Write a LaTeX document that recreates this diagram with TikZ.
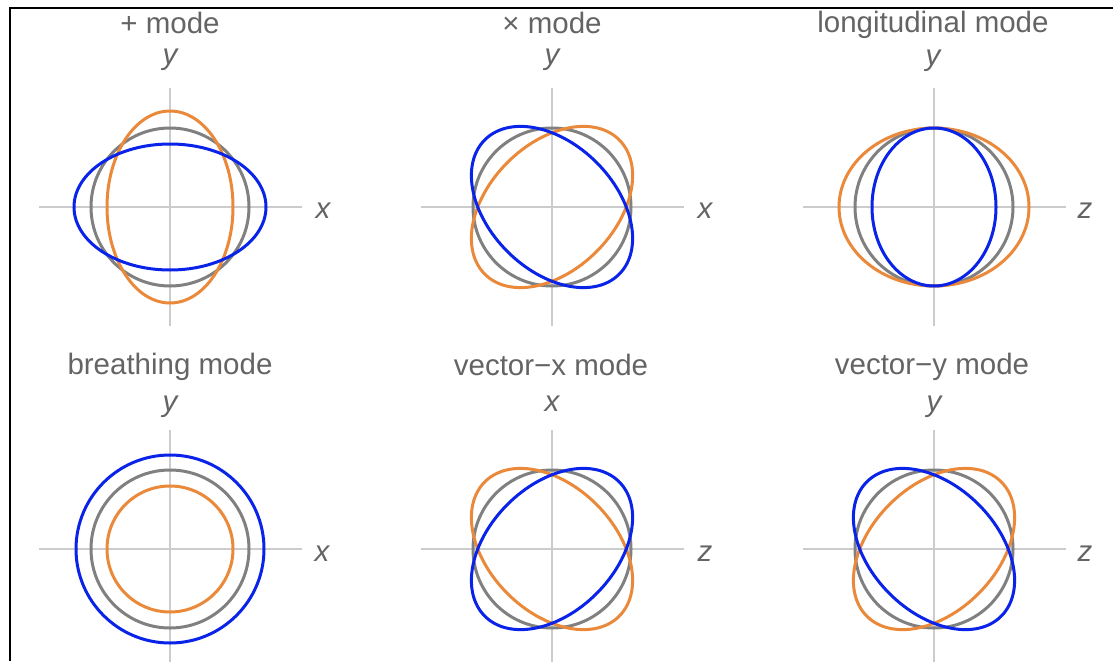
\documentclass[tikz,border=0pt]{standalone}
\usepackage{fontspec}
\setmainfont{Liberation Sans}
\usetikzlibrary{positioning}
\definecolor{restgray}{RGB}{128,128,128}
\definecolor{axisgray}{RGB}{204,204,204}
\definecolor{txtgray}{RGB}{100,100,100}
\definecolor{modeorange}{RGB}{234,137,58}
\definecolor{modeblue}{RGB}{10,35,232}

\begin{document}
\begin{tikzpicture}[x=1pt, y=-1pt,
  ax/.style={draw=axisgray, line width=1.4pt},
  rest/.style={draw=restgray, line width=3pt},
  phA/.style={draw=modeorange, line width=3pt},
  phB/.style={draw=modeblue, line width=3pt},
  ttl/.style={anchor=base, text=txtgray, inner sep=0pt, font=\fontsize{29.5}{34}\selectfont},
  axl/.style={anchor=base, text=txtgray, inner sep=0pt, font=\fontsize{29.5}{34}\selectfont\itshape}]
  \useasboundingbox (0,0) rectangle (1113,661);
  \draw[line width=2pt] (1113,8) -| (10,661);
  % panel centres
  \coordinate (pl) at (170,207);
  \coordinate (cr) at (552,207);
  \coordinate (lo) at (934,207);
  \coordinate (br) at (170,549);
  \coordinate (vx) at (552,549);
  \coordinate (vy) at (934,549);
  \foreach \c in {pl,cr,lo,br,vx,vy}{
    \draw[ax] (\c) ++(-131,0) -- ++(263,0);
    \draw[ax] (\c) ++(0,-119) -- ++(0,238);
    \draw[rest] (\c) circle (79);
  }
  % + mode
  \draw[phA] (pl) ellipse (63 and 96);
  \draw[phB] (pl) ellipse (96 and 63);
  \node[ttl] (tpl) at (170,34) {+ mode};
  \node[axl] (vpl) at (170,65) {y};
  \node[axl] (hpl) at (323,218) {x};
  % x mode
  \draw[phA, rotate around={45:(cr)}] (cr) ellipse (95 and 63);
  \draw[phB, rotate around={-45:(cr)}] (cr) ellipse (95 and 63);
  \node[ttl] (tcr) at (552,34) {× mode};
  \node[axl] (vcr) at (552,65) {y};
  \node[axl] (hcr) at (705,218) {x};
  % longitudinal mode
  \draw[phA] (lo) ellipse (95 and 79);
  \draw[phB] (lo) ellipse (62 and 79);
  \node[ttl] (tlo) at (933,33) {longitudinal mode};
  \node[axl] (vlo) at (933,66) {y};
  \node[axl] (hlo) at (1085,218) {z};
  % breathing mode
  \draw[phA] (br) circle (63);
  \draw[phB] (br) circle (94);
  \node[ttl] (tbr) at (170,374) {breathing mode};
  \node[axl] (vbr) at (170,411) {y};
  \node[axl] (hbr) at (322,561) {x};
  % vector-x mode
  \draw[phA, rotate around={-45:(vx)}] (vx) ellipse (95 and 63);
  \draw[phB, rotate around={45:(vx)}] (vx) ellipse (95 and 63);
  \node[ttl] (tvx) at (551,375) {vector−x mode};
  \node[axl] (vvx) at (552,411) {x};
  \node[axl] (hvx) at (705,561) {z};
  % vector-y mode
  \draw[phA, rotate around={45:(vy)}] (vy) ellipse (95 and 63);
  \draw[phB, rotate around={-45:(vy)}] (vy) ellipse (95 and 63);
  \node[ttl] (tvy) at (932,374) {vector−y mode};
  \node[axl] (vvy) at (934,411) {y};
  \node[axl] (hvy) at (1085,561) {z};
\end{tikzpicture}
\end{document}
